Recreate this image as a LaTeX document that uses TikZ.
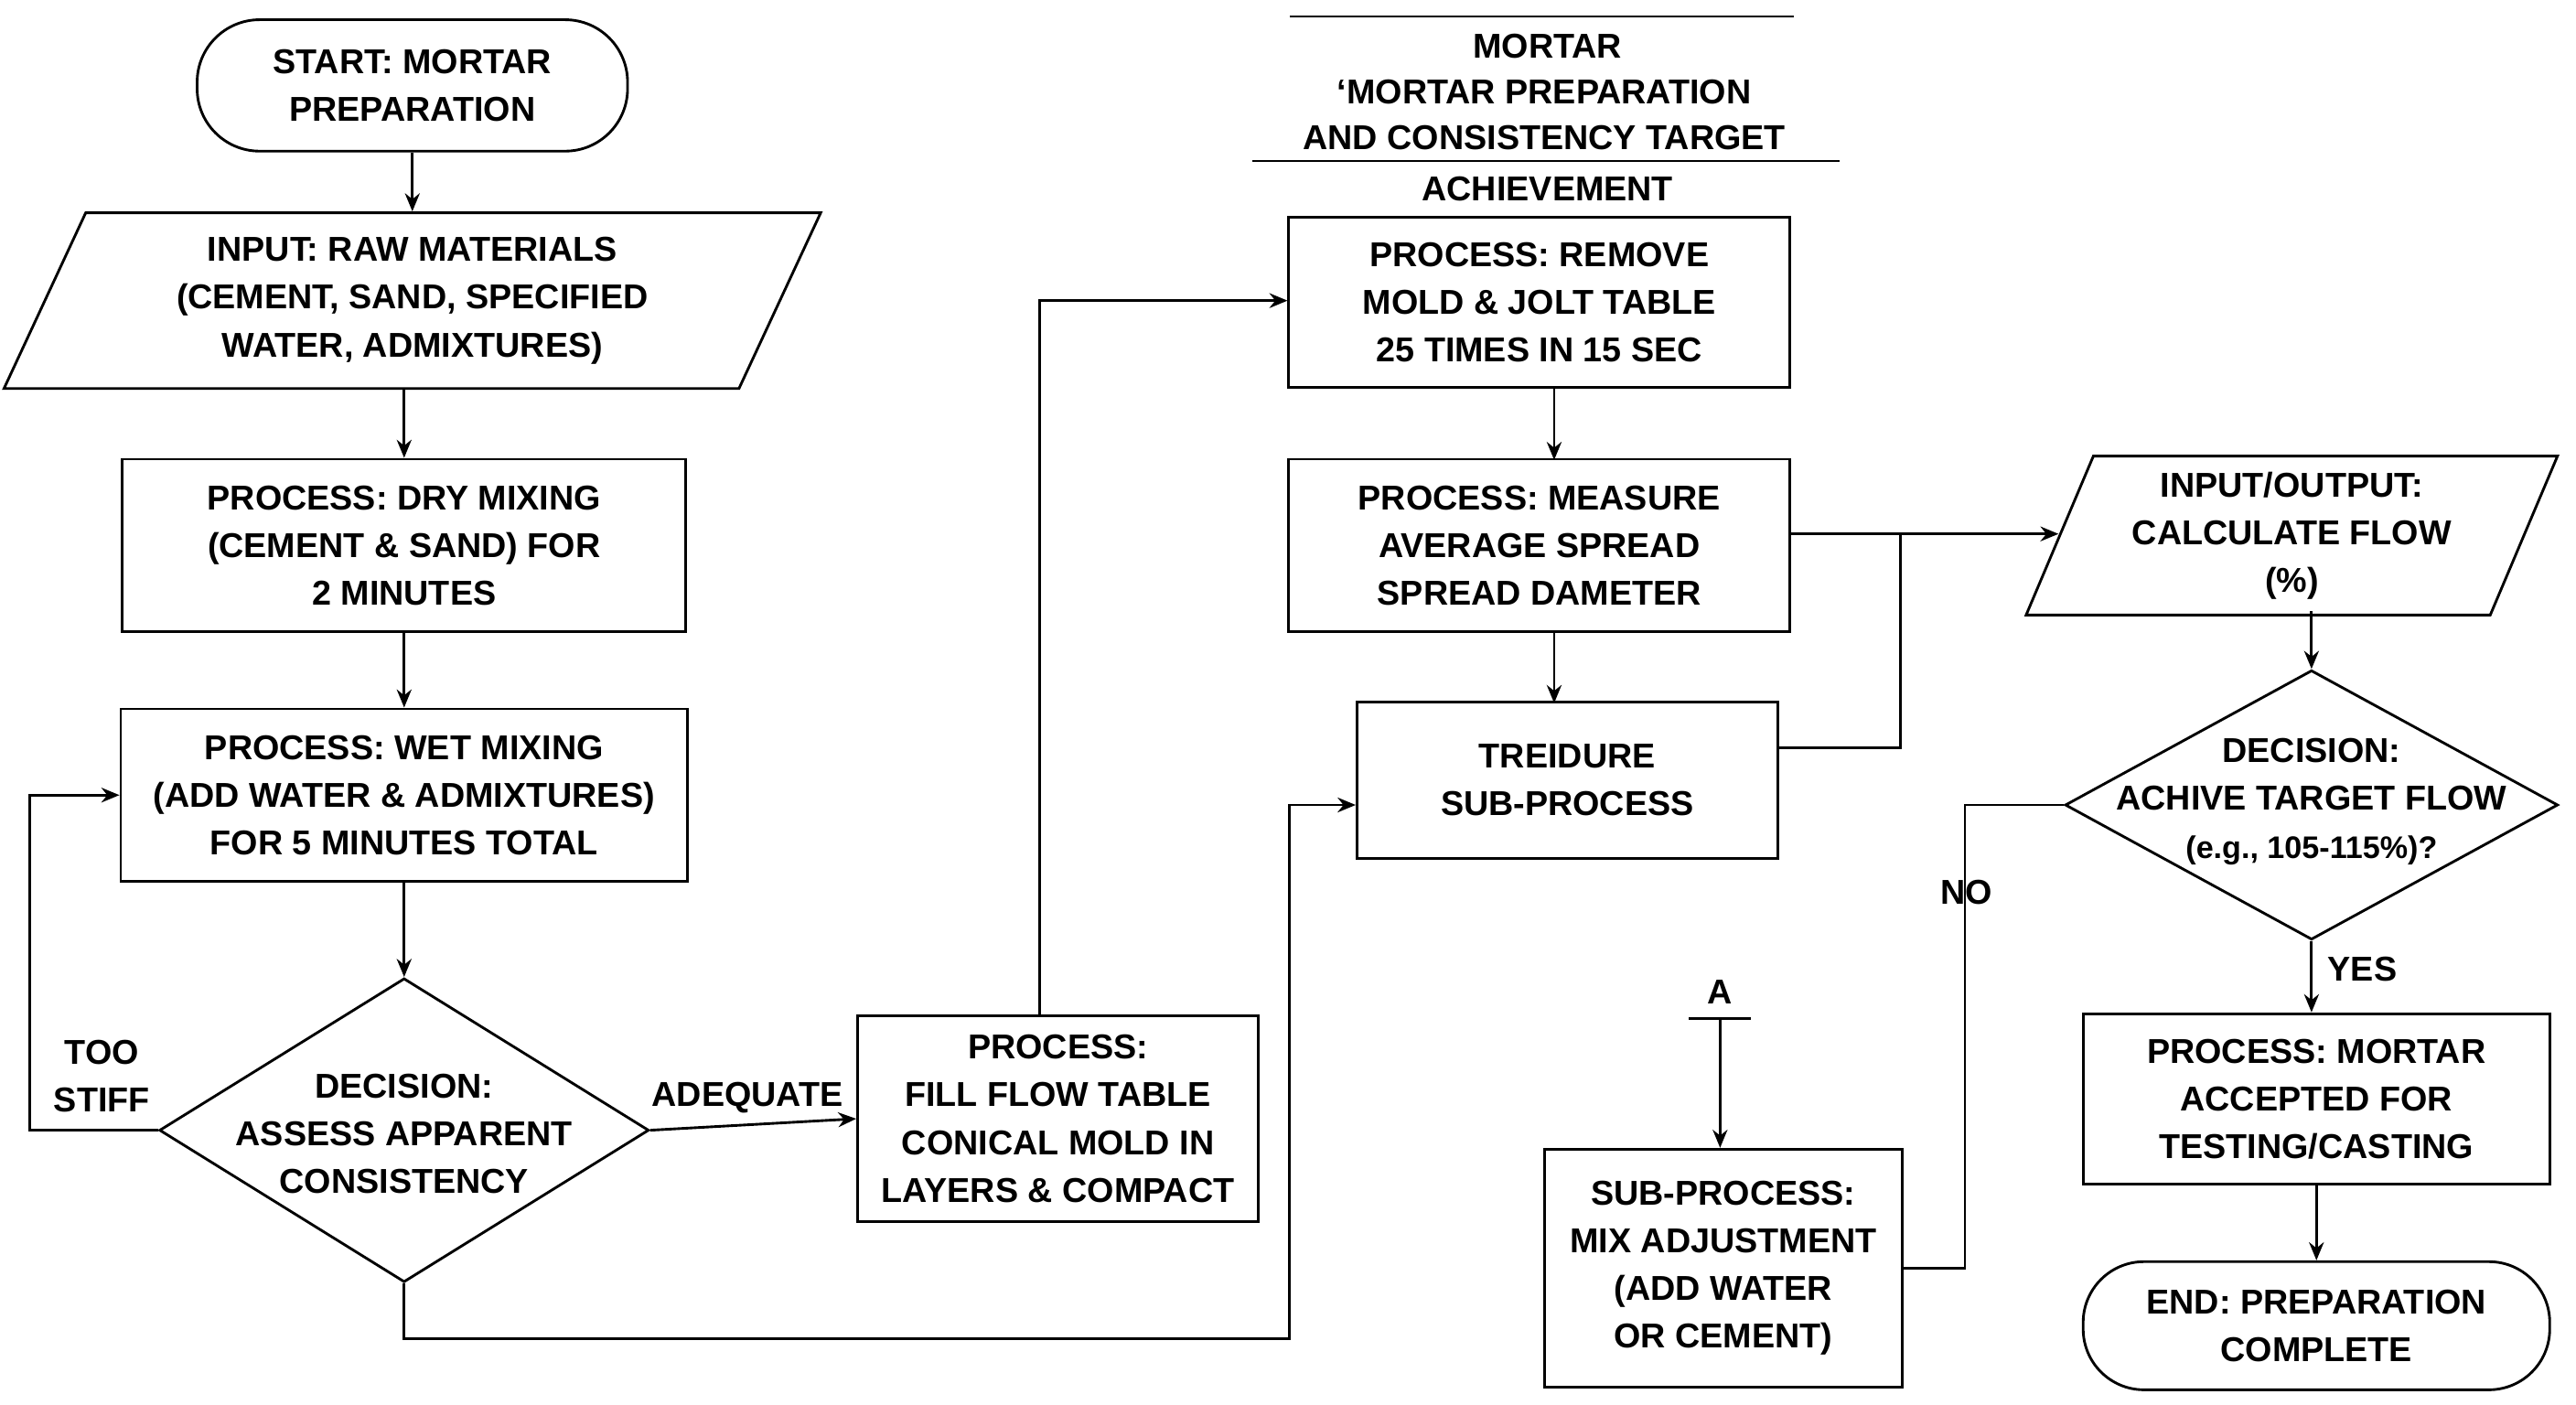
\documentclass[tikz,border=0pt]{standalone}
\usepackage{fontspec}
\setmainfont{Liberation Sans}
\usetikzlibrary{shapes.geometric,arrows.meta}
\begin{document}
\begin{tikzpicture}[x=1pt,y=-1pt,
  every node/.style={font=\bfseries\fontsize{21}{29}\selectfont,align=center},
  box/.style={draw,line width=1.6pt,minimum width=#1,inner sep=0pt},
  ln/.style={line width=1.6pt},
  ar/.style={ln,-{Stealth[length=11pt,width=9pt]}},
  dia/.style={draw,line width=1.6pt,diamond,aspect=1.6,inner sep=0pt}]
\useasboundingbox (0,0) rectangle (1568,855);
% left column
\node[box=262pt,minimum height=80pt,rounded corners=38pt] (start) at (251,52) {START: MORTAR\\PREPARATION};
\node[draw,line width=1.6pt,trapezium,trapezium left angle=65,trapezium right angle=115,minimum width=470pt,minimum height=107pt,inner sep=0pt] (input) at (251,183) {INPUT: RAW MATERIALS\\(CEMENT, SAND, SPECIFIED\\WATER, ADMIXTURES)};
\node[box=343pt,minimum height=105pt] (dry) at (246,332) {PROCESS: DRY MIXING\\(CEMENT \& SAND) FOR\\2 MINUTES};
\node[box=345pt,minimum height=105pt] (wet) at (246,484) {PROCESS: WET MIXING\\(ADD WATER \& ADMIXTURES)\\FOR 5 MINUTES TOTAL};
\node[dia,minimum width=298pt,minimum height=185pt] (d1) at (246,688) {};
\node at (246,690) {DECISION:\\ASSESS APPARENT\\CONSISTENCY};
\node[box=244pt,minimum height=125pt] (fill) at (644,681) {PROCESS:\\FILL FLOW TABLE\\CONICAL MOLD IN\\LAYERS \& COMPACT};
% title
\draw[ln] (785,10) -- (1092,10);
\node (t1) at (942,28) {MORTAR};
\node (t2) at (940,56) {‘MORTAR PREPARATION};
\node (t3) at (940,84) {AND CONSISTENCY TARGET};
\draw[ln] (762,98) -- (1120,98);
\node (t4) at (942,115) {ACHIEVEMENT};
% middle
\node[box=305pt,minimum height=104pt] (rem) at (937,184) {PROCESS: REMOVE\\MOLD \& JOLT TABLE\\25 TIMES IN 15 SEC};
\node[box=305pt,minimum height=105pt] (meas) at (937,332) {PROCESS: MEASURE\\AVERAGE SPREAD\\SPREAD DAMETER};
\node[box=256pt,minimum height=95pt] (tre) at (954,475) {TREIDURE\\SUB-PROCESS};
\node[box=218pt,minimum height=145pt] (mix) at (1049,772) {SUB-PROCESS:\\MIX ADJUSTMENT\\(ADD WATER\\OR CEMENT)};
\node (A) at (1047,604) {A};
\draw[ln] (1028,620) -- (1066,620);
\coordinate (Ab) at (1047,620);
% right
\node[draw,line width=1.6pt,trapezium,trapezium left angle=67,trapezium right angle=113,minimum width=325pt,minimum height=92pt,inner sep=0pt] (calc) at (1395,326) {INPUT/OUTPUT:\\CALCULATE FLOW\\(\%)};
\node[dia,minimum width=300pt,minimum height=164pt] (d2) at (1407,490) {};
\node at (1407,488) {DECISION:\\ACHIVE TARGET FLOW\\{\fontsize{19}{27}\selectfont (e.g., 105-115\%)?}};
\node[box=284pt,minimum height=104pt] (acc) at (1410,669) {PROCESS: MORTAR\\ACCEPTED FOR\\TESTING/CASTING};
\node[box=284pt,minimum height=78pt,rounded corners=37pt] (end) at (1410,807) {END: PREPARATION\\COMPLETE};
% connectors
\draw[ar] (start) -- (input);
\draw[ar] (input.south -| dry) -- (dry);
\draw[ar] (dry) -- (wet);
\draw[ar] (wet) -- (d1);
\draw[ar] (d1.west) -- (18,688) -- (18,484) -- (wet.west);
\node at (62,655) {TOO\\STIFF};
\draw[ar] (d1.east) -- (fill.west);
\node at (455,668) {ADEQUATE};
\draw[ar] (633,619) -- (633,183) -- (rem.west |- 633,183);
\draw[ar] (d1.south) -- (246,815) -- (785,815) -- (785,490) -- (tre.west |- 0,490);
\draw[ar] (946,236) -- (946,280);
\draw[ar] (946,385) -- (946,428);
\draw[ar] (meas.east |- 0,325) -- (1253,325);
\draw[ln] (tre.east |- 0,455) -- (1157,455) -- (1157,325);
\draw[ar] (1407,372) -- (d2.north);
\draw[ln] (d2.west) -- (1196,490) -- (1196,772) -- (mix.east);
\node at (1197,543) {NO};
\draw[ar] (d2.south) -- (acc.north -| d2.south);
\node at (1438,590) {YES};
\draw[ar] (acc.south) -- (end.north);
\draw[ar] (Ab) -- (mix.north -| Ab);
\end{tikzpicture}
\end{document}
